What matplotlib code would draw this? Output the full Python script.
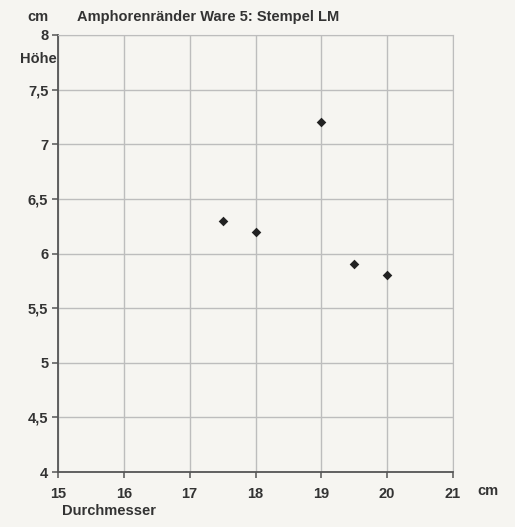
import matplotlib
matplotlib.use("Agg")
import matplotlib.pyplot as plt
from matplotlib.ticker import FixedLocator, FuncFormatter

durchmesser = [17.5, 18.0, 19.0, 19.5, 20.0]
hoehe = [6.3, 6.2, 7.2, 5.9, 5.8]
x_ticks = [15, 16, 17, 18, 19, 20, 21]
y_ticks = [4, 4.5, 5, 5.5, 6, 6.5, 7, 7.5, 8]
title = "Amphorenränder Ware 5: Stempel LM"

bg = "#f6f5f1"
fs = 10.5
plt.rcParams['font.family'] = ['Liberation Sans', 'DejaVu Sans']

fig = plt.figure(figsize=(5.15, 5.27), dpi=100, facecolor=bg)
ax = fig.add_axes([58/515, 1-472/527, (453-58)/515, (472-35)/527])
ax.set_facecolor(bg)

ax.scatter(durchmesser, hoehe, marker="D", s=24, color="#222222", zorder=3, linewidths=0)

ax.set_xlim(15, 21)
ax.set_ylim(4, 8)
ax.xaxis.set_major_locator(FixedLocator(x_ticks))
ax.yaxis.set_major_locator(FixedLocator(y_ticks))
ax.yaxis.set_major_formatter(FuncFormatter(lambda v, p: (f"{v:g}").replace(".", ",")))
ax.xaxis.set_major_formatter(FuncFormatter(lambda v, p: f"{v:g}"))
ax.grid(True, color="#bdbdbd", linewidth=1.0)
ax.set_axisbelow(True)
for s in ["top", "right"]:
    ax.spines[s].set_color("#bdbdbd")
for s in ["left", "bottom"]:
    ax.spines[s].set_color("#555555")
    ax.spines[s].set_linewidth(1.3)
ax.tick_params(axis="both", direction="out", length=4, width=1.1, color="#555555",
               labelsize=fs, labelcolor="#333333")
for lab in ax.get_xticklabels() + ax.get_yticklabels():
    lab.set_fontweight("bold")
ax.tick_params(axis="x", pad=7)
ax.tick_params(axis="y", pad=3)

fig.text(38/515, 1-17/527, "cm", ha="center", va="center", fontsize=fs, fontweight="bold", color="#333333")
fig.text(77/515, 1-17/527, title, ha="left", va="center", fontsize=fs, fontweight="bold", color="#333333")
fig.text(38/515, 1-59/527, "Höhe", ha="center", va="center", fontsize=fs, fontweight="bold", color="#333333")
fig.text(488/515, 1-491/527, "cm", ha="center", va="center", fontsize=fs, fontweight="bold", color="#333333")
fig.text(62/515, 1-511/527, "Durchmesser", ha="left", va="center", fontsize=fs, fontweight="bold", color="#333333")

fig.savefig("out.png", dpi=100, facecolor=bg)
